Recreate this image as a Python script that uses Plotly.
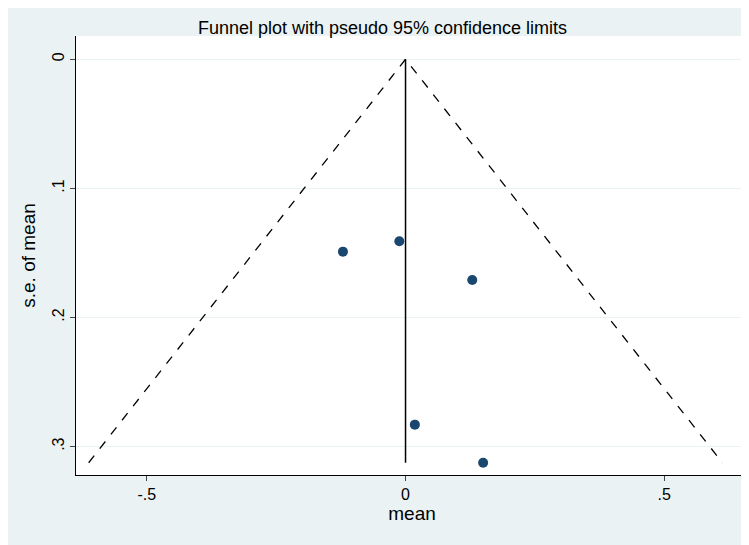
import plotly.graph_objects as go

means = [-0.121, -0.012, 0.129, 0.018, 0.150]
ses = [0.149, 0.141, 0.171, 0.283, 0.3125]
pooled = 0.0
se_max = 0.3125
z = 1.96
xticks = [-0.5, 0, 0.5]
xlabels = ["-.5", "0", ".5"]
yticks = [0, 0.1, 0.2, 0.3]
ylabels = ["0", ".1", ".2", ".3"]

fig = go.Figure()
fig.add_trace(go.Scatter(x=[pooled - z*se_max, pooled, pooled + z*se_max], y=[se_max, 0, se_max],
                         mode="lines", line=dict(color="black", dash="dash", width=1.3), showlegend=False))
fig.add_trace(go.Scatter(x=[pooled, pooled], y=[0, se_max], mode="lines",
                         line=dict(color="black", width=1.5), showlegend=False))
fig.add_trace(go.Scatter(x=means, y=ses, mode="markers",
                         marker=dict(color="#1a476f", size=10), showlegend=False))
fig.update_layout(
    width=749, height=545, paper_bgcolor="#eaf2f3", plot_bgcolor="white",
    margin=dict(l=68, r=9, t=28, b=78, autoexpand=False),
    title=dict(text="Funnel plot with pseudo 95% confidence limits", x=0.5, xanchor="center",
               y=0.975, font=dict(size=18, color="black")),
    font=dict(family="Liberation Sans, Arial", color="black", size=16),
    xaxis=dict(range=[-0.637, 0.662], tickvals=xticks, ticktext=xlabels, showgrid=False,
               zeroline=False, showline=True, linecolor="black", ticks="outside", ticklen=5,
               automargin=False, title=dict(text="mean", standoff=2)),
    yaxis=dict(range=[0.322, -0.018], tickvals=yticks, ticktext=ylabels, gridcolor="#eaf2f3",
               zeroline=False, showline=True, linecolor="black", ticks="outside", ticklen=5,
               automargin=False, tickangle=-90, title=dict(text="s.e. of mean", standoff=8)),
)
fig.write_html("out.html")
